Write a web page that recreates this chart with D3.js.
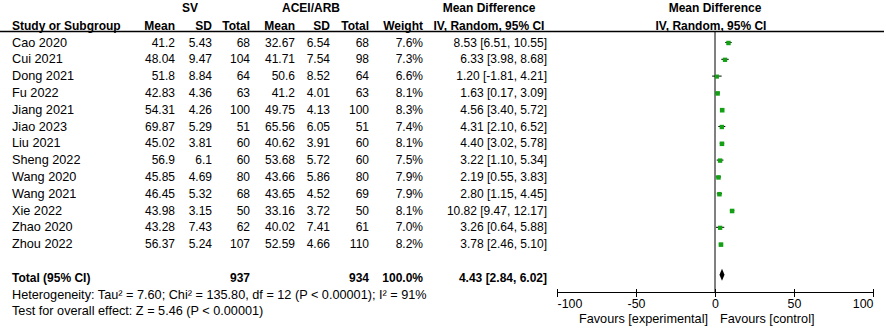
<!DOCTYPE html>
<html lang="en">
<head>
<meta charset="UTF-8"/>
<title>Forest Plot</title>
<script src="https://d3js.org/d3.v7.min.js"></script>
<style>
	body { margin: 0; background: #fff; }
	text { font-family: "Liberation Sans", Arial, sans-serif; font-size: 12px; fill: #000; }
	.bold { font-weight: bold; }
	.lbl { font-size: 12.7px; }
	.axis text { font-size: 12.4px; }
	.axis path, .axis line { stroke: #000; shape-rendering: crispEdges; }
</style>
</head>
<body>
<div id="chart"></div>
<script>
	// study data
	var studies = ["Cao 2020", "Cui 2021", "Dong 2021", "Fu 2022", "Jiang 2021", "Jiao 2023", "Liu 2021",
		"Sheng 2022", "Wang 2020", "Wang 2021", "Xie 2022", "Zhao 2020", "Zhou 2022"];
	var svMean = ["41.2", "48.04", "51.8", "42.83", "54.31", "69.87", "45.02", "56.9", "45.85", "46.45", "43.98", "43.28", "56.37"];
	var svSD = ["5.43", "9.47", "8.84", "4.36", "4.26", "5.29", "3.81", "6.1", "4.69", "5.32", "3.15", "7.43", "5.24"];
	var svTotal = [68, 104, 64, 63, 100, 51, 60, 60, 80, 68, 50, 62, 107];
	var acMean = ["32.67", "41.71", "50.6", "41.2", "49.75", "65.56", "40.62", "53.68", "43.66", "43.65", "33.16", "40.02", "52.59"];
	var acSD = ["6.54", "7.54", "8.52", "4.01", "4.13", "6.05", "3.91", "5.72", "5.86", "4.52", "3.72", "7.41", "4.66"];
	var acTotal = [68, 98, 64, 63, 100, 51, 60, 60, 80, 69, 50, 61, 110];
	var weights = [7.6, 7.3, 6.6, 8.1, 8.3, 7.4, 8.1, 7.5, 7.9, 7.9, 8.1, 7.0, 8.2];
	var md = [8.53, 6.33, 1.20, 1.63, 4.56, 4.31, 4.40, 3.22, 2.19, 2.80, 10.82, 3.26, 3.78];
	var ciLow = [6.51, 3.98, -1.81, 0.17, 3.40, 2.10, 3.02, 1.10, 0.55, 1.15, 9.47, 0.64, 2.46];
	var ciHigh = [10.55, 8.68, 4.21, 3.09, 5.72, 6.52, 5.78, 5.34, 3.83, 4.45, 12.17, 5.88, 5.10];

	// pooled
	var totalSV = 937, totalAC = 934;
	var pooled = { md: 4.43, lo: 2.84, hi: 6.02 };
	var hetText = "Heterogeneity: Tau\u00B2 = 7.60; Chi\u00B2 = 135.80, df = 12 (P < 0.00001); I\u00B2 = 91%";
	var testText = "Test for overall effect: Z = 5.46 (P < 0.00001)";
	var axisTicks = [-100, -50, 0, 50, 100];

	var w = 886, h = 329;
	var rowY = d3.scaleLinear().domain([0, 1]).range([42.5, 59.3]);
	var xScale = d3.scaleLinear().domain([-100, 100]).range([557, 873]);
	var axisY = 292.5;

	var svg = d3.select("#chart").append("svg").attr("width", w).attr("height", h);

	function txt(x, y, s, anchor, cls) {
		return svg.append("text").attr("x", x).attr("y", y + 4).attr("text-anchor", anchor || "start")
			.attr("class", cls || null).text(s);
	}

	// headers
	txt(190, 8, "SV", "middle", "bold");
	txt(311, 8, "ACEI/ARB", "middle", "bold");
	txt(489, 8, "Mean Difference", "middle", "bold");
	txt(715, 8, "Mean Difference", "middle", "bold");
	var hy = 26;
	txt(12, hy, "Study or Subgroup", "start", "bold");
	txt(175, hy, "Mean", "end", "bold");
	txt(212, hy, "SD", "end", "bold");
	txt(250, hy, "Total", "end", "bold");
	txt(295, hy, "Mean", "end", "bold");
	txt(330, hy, "SD", "end", "bold");
	txt(369, hy, "Total", "end", "bold");
	txt(423, hy, "Weight", "end", "bold");
	txt(489, hy, "IV, Random, 95% CI", "middle", "bold");
	txt(711, hy, "IV, Random, 95% CI", "middle", "bold");

	svg.append("line").attr("x1", 0).attr("x2", 884).attr("y1", 31.5).attr("y2", 31.5)
		.attr("stroke", "#000").attr("stroke-width", 1.5);

	// table rows
	studies.forEach(function(s, i) {
		var y = rowY(i);
		txt(12, y, s, "start", "lbl");
		txt(175, y, svMean[i], "end");
		txt(212, y, svSD[i], "end");
		txt(250, y, svTotal[i], "end");
		txt(295, y, acMean[i], "end");
		txt(330, y, acSD[i], "end");
		txt(369, y, acTotal[i], "end");
		txt(423, y, weights[i].toFixed(1) + "%", "end");
		txt(547, y, md[i].toFixed(2) + " [" + ciLow[i].toFixed(2) + ", " + ciHigh[i].toFixed(2) + "]", "end");
	});

	var ty = rowY(14);
	txt(12, ty, "Total (95% CI)", "start", "bold");
	txt(250, ty, totalSV, "end", "bold");
	txt(369, ty, totalAC, "end", "bold");
	txt(423, ty, "100.0%", "end", "bold");
	txt(547, ty, pooled.md.toFixed(2) + " [" + pooled.lo.toFixed(2) + ", " + pooled.hi.toFixed(2) + "]", "end", "bold");
	txt(12, rowY(15), hetText, "start", "lbl");
	txt(12, rowY(16), testText, "start", "lbl");

	// zero line
	svg.append("line").attr("x1", xScale(0)).attr("x2", xScale(0)).attr("y1", 31.5).attr("y2", axisY)
		.attr("stroke", "#000").attr("stroke-width", 1);

	// CI lines and squares
	studies.forEach(function(s, i) {
		var y = rowY(i);
		svg.append("line").attr("x1", xScale(ciLow[i])).attr("x2", xScale(ciHigh[i]))
			.attr("y1", y).attr("y2", y).attr("stroke", "#000").attr("stroke-width", 1);
		var size = Math.sqrt(weights[i]) * 1.6;
		svg.append("rect").attr("x", xScale(md[i]) - size / 2).attr("y", y - size / 2 + 0.5)
			.attr("width", size).attr("height", size).attr("fill", "#14a014");
	});

	// pooled diamond
	svg.append("path")
		.attr("d", "M" + xScale(pooled.lo) + "," + (ty - 3) + "L" + xScale(pooled.md) + "," + (ty - 9) +
			"L" + xScale(pooled.hi) + "," + (ty - 3) + "L" + xScale(pooled.md) + "," + (ty + 3) + "Z")
		.attr("fill", "#000");

	// axis
	var xAxis = d3.axisBottom(xScale).tickValues(axisTicks).tickSize(3).tickPadding(4)
		.tickFormat(function(d) { return String(d); });
	var ax = svg.append("g").attr("class", "axis").attr("transform", "translate(0," + axisY + ")").call(xAxis);
	ax.select(".domain").attr("d", "M" + xScale(-100) + ",0H" + xScale(100));
	ax.selectAll(".tick line").attr("y1", -4).attr("y2", 4);
	ax.selectAll(".tick text").attr("dy", "0.71em")
		.attr("text-anchor", function(d) { return d === -100 ? "start" : (d === 100 ? "end" : "middle"); });

	txt(708, 319, "Favours [experimental]", "end", "lbl");
	txt(720, 319, "Favours [control]", "start", "lbl");
</script>
</body>
</html>
